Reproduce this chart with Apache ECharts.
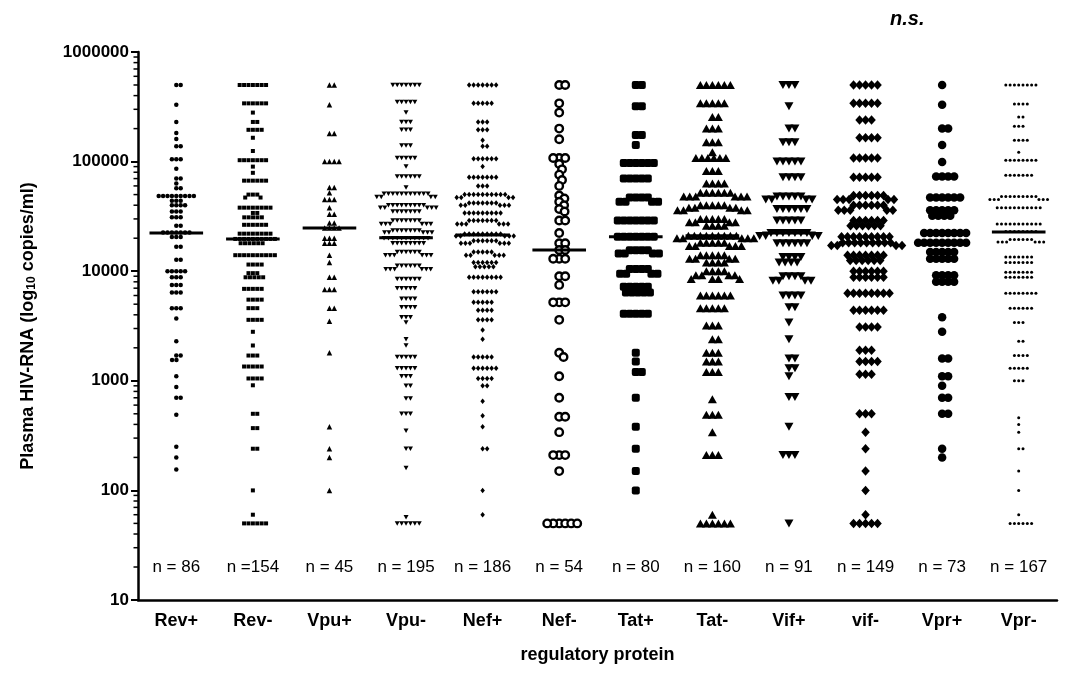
<!DOCTYPE html>
<html><head><meta charset="utf-8"></head>
<body style="margin:0;background:#fff">
<div id="c" style="width:1069px;height:682px"></div>
<script src="https://cdn.jsdelivr.net/npm/echarts@6/dist/echarts.min.js"></script>
<script>
// ---------- data ----------
var categories = ['Rev+','Rev-','Vpu+','Vpu-','Nef+','Nef-','Tat+','Tat-','Vif+','vif-','Vpr+','Vpr-'];
var nLabels = ['n = 86','n =154','n = 45','n = 195','n = 186','n = 54','n = 80','n = 160','n = 91','n = 149','n = 73','n = 167'];
var medians = [22300,19700,24800,20200,21400,15600,20600,21100,22300,18200,18200,22800];
var nLabelLevel = 20;
// each entry: [viral load, number of points read at that level]
var revPlus = [[500000,2],[330000,1],[230000,1],[182000,1],[161000,1],[138000,2],[105000,3],[86000,1],[70000,2],[63000,1],[57000,2],[48500,9],[44000,3],[40000,4],[35000,3],[31000,3],[26000,2],[22500,7],[20500,3],[16700,2],[12700,2],[10000,5],[8800,3],[7500,3],[6400,3],[4600,3],[3700,1],[2300,1],[1700,2],[1550,2],[1100,1],[880,1],[700,2],[490,1],[250,1],[200,1],[155,1]];
var revMinus = [[500000,7],[340000,6],[280000,1],[230000,2],[195000,4],[165000,1],[125000,1],[103000,7],[90000,1],[79000,1],[67000,6],[50000,3],[47000,2],[38000,8],[34000,2],[31000,5],[26500,6],[22000,8],[19700,10],[18000,6],[14000,10],[11500,4],[9600,3],[8800,5],[6900,5],[5500,4],[4600,3],[3600,4],[2800,1],[2100,1],[1700,3],[1350,5],[1050,4],[910,1],[500,2],[370,2],[240,2],[100,1],[60,1],[50,6]];
var vpuPlus = [[500000,2],[330000,1],[180000,2],[100000,4],[58000,2],[52000,1],[45000,3],[38000,1],[33000,2],[27500,2],[24800,4],[20000,3],[18000,3],[14000,1],[12000,1],[8800,2],[6800,3],[4600,2],[3500,1],[1800,1],[380,1],[240,1],[200,1],[100,1]];
var vpuMinus = [[500000,7],[350000,5],[280000,1],[230000,3],[195000,3],[140000,3],[108000,5],[90000,1],[73000,6],[58000,1],[51000,11],[47500,4],[40000,9],[38000,5],[35000,7],[29000,7],[27000,6],[23500,7],[22500,5],[20000,11],[18000,8],[15000,6],[14000,6],[11200,6],[10400,6],[8500,6],[7000,5],[5600,4],[4700,4],[3800,3],[3400,1],[2400,1],[2100,1],[1650,5],[1300,5],[1100,3],[900,2],[690,2],[500,3],[350,1],[240,2],[160,1],[57,1],[50,6]];
var nefPlus = [[500000,7],[340000,5],[230000,3],[195000,3],[157000,1],[138000,2],[106000,6],[90000,1],[72000,7],[60000,3],[50000,10],[47000,4],[42000,7],[40000,5],[34000,9],[29000,7],[27000,6],[21800,9],[21000,5],[19000,6],[18000,6],[15000,5],[14000,5],[12000,6],[11000,5],[8800,8],[6500,6],[5200,5],[4400,4],[3600,4],[2900,1],[2400,1],[1650,5],[1300,6],[1050,4],[900,2],[650,1],[480,1],[380,1],[240,2],[100,1],[60,1]];
var nefMinus = [[500000,2],[340000,1],[280000,1],[200000,1],[160000,1],[108000,3],[95000,1],[85000,1],[76000,1],[68000,1],[60000,1],[49000,1],[46000,1],[43000,1],[40000,1],[37000,1],[35000,1],[29000,2],[22300,1],[18000,2],[15600,2],[13000,3],[9000,2],[7500,1],[5200,3],[3600,1],[1800,1],[1650,1],[1100,1],[700,1],[470,2],[340,1],[210,3],[150,1],[50,6]];
var tatPlus = [[500000,2],[320000,2],[175000,2],[142000,1],[97000,6],[70000,5],[47000,4],[43000,4],[29000,7],[20600,7],[15500,4],[14500,4],[10500,4],[9500,4],[7200,5],[6400,5],[4100,5],[1800,1],[1500,1],[1200,2],[700,1],[380,1],[240,1],[150,1],[100,1]];
var tatMinus = [[500000,6],[340000,5],[255000,2],[200000,3],[150000,3],[122000,1],[108000,6],[82000,3],[63000,4],[52000,6],[48000,6],[40000,5],[38000,4],[36000,4],[30000,5],[28000,4],[26000,4],[21100,9],[20000,5],[18200,5],[17000,5],[14000,5],[13000,4],[12000,4],[10000,4],[9200,4],[8500,4],[6000,6],[4600,5],[3200,3],[2400,2],[1800,3],[1500,3],[1200,3],[680,1],[490,3],[340,1],[210,3],[60,1],[50,6]];
var vifPlus = [[500000,3],[320000,1],[200000,2],[150000,3],[100000,5],[72000,4],[48000,5],[45000,4],[37000,6],[29000,5],[22300,7],[21000,4],[18000,6],[13500,4],[12000,4],[9000,4],[8200,4],[6000,4],[4700,2],[3400,1],[2400,1],[1600,2],[1300,2],[1100,1],[710,2],[380,1],[210,3],[50,1]];
var vifMinus = [[500000,5],[340000,5],[240000,3],[165000,4],[108000,5],[72000,5],[49000,6],[45000,5],[40000,6],[36000,5],[29000,6],[26000,6],[20600,9],[18200,9],[17200,4],[14000,7],[12500,6],[10000,6],[8800,6],[6300,8],[4400,6],[3100,4],[1900,3],[1500,4],[1150,3],[500,3],[340,1],[240,1],[150,1],[100,1],[60,1],[50,5]];
var vprPlus = [[500000,1],[330000,1],[200000,2],[142000,1],[99000,1],[73000,4],[47000,6],[36000,5],[32000,4],[22300,8],[18200,9],[15000,5],[13000,5],[9200,4],[8000,4],[3800,1],[2800,1],[1600,2],[1100,2],[900,1],[700,2],[500,2],[240,1],[200,1]];
var vprMinus = [[500000,8],[335000,4],[255000,2],[210000,3],[157000,4],[122000,1],[103000,8],[75000,7],[48000,9],[45000,6],[38000,11],[27000,11],[23000,8],[19500,6],[18500,6],[13500,7],[12000,7],[9800,7],[8800,7],[6300,8],[4600,6],[3400,3],[2300,2],[1700,4],[1300,5],[1000,3],[460,1],[400,1],[340,1],[240,2],[150,1],[100,1],[60,1],[50,6]];

var groups = [revPlus,revMinus,vpuPlus,vpuMinus,nefPlus,nefMinus,tatPlus,tatMinus,vifPlus,vifMinus,vprPlus,vprMinus];

// ---------- styling ----------
var FONT = 'Liberation Sans, Arial, sans-serif';
var triDown = 'path://M0,0 L10,0 L5,9 Z';
var styles = [
  {symbol:'circle', size:4.5, gap:4.4},
  {symbol:'rect', size:4, gap:4.4},
  {symbol:'triangle', size:5.5, gap:4.8},
  {symbol:triDown, size:[5,4.5], gap:4.4},
  {symbol:'diamond', size:[4.5,5.5], gap:4.5},
  {symbol:'circle', size:7.5, gap:6, hollow:true},
  {symbol:'roundRect', size:8, gap:6},
  {symbol:'triangle', size:[9,8], gap:6},
  {symbol:triDown, size:[9,8], gap:6},
  {symbol:'diamond', size:[8.5,9.5], gap:6},
  {symbol:'circle', size:8.5, gap:6},
  {symbol:'circle', size:3, gap:4.3}
];

var chart = echarts.init(document.getElementById('c'), null, {renderer:'canvas'});

var minorTicks = [];
for (var k = 1; k < 6; k++) for (var m = 2; m <= 9; m++) minorTicks.push(m * Math.pow(10, k));

var baseOption = {
  animation: false,
  backgroundColor: '#fff',
  textStyle: {fontFamily: FONT, color:'#000'},
  grid: {left: 138, right: 12, top: 52, bottom: 82, containLabel: false},
  xAxis: [{
    type: 'category', data: categories, boundaryGap: true,
    axisLine: {onZero: false, lineStyle: {color:'#000', width: 2.5}},
    axisTick: {alignWithLabel: true, length: 7, lineStyle: {width: 2, color:'#000'}},
    axisLabel: {color:'#000', fontSize: 18, fontWeight:'bold', fontFamily: FONT, margin: 12},
    name: 'regulatory protein', nameLocation: 'middle', nameGap: 46,
    nameTextStyle: {color:'#000', fontSize: 18, fontWeight:'bold', fontFamily: FONT}
  },{
    type: 'value', min: -0.5, max: 11.5, show: false
  }],
  yAxis: [{
    type: 'log', logBase: 10, min: 10, max: 1000000,
    axisLine: {show: true, onZero: false, lineStyle: {color:'#000', width: 2.5}},
    axisTick: {show: true, length: 7, lineStyle: {width: 2, color:'#000'}},
    axisLabel: {color:'#000', fontSize: 17, fontWeight:'bold', fontFamily: FONT, margin: 9,
      formatter: function(v){ return String(Math.round(v)); }},
    splitLine: {show: false},
    name: 'Plasma HIV-RNA (log{sub|10} copies/ml)', nameLocation: 'middle', nameGap: 100, nameRotate: 90,
    nameTextStyle: {color:'#000', fontSize: 18, fontWeight:'bold', fontFamily: FONT,
      rich: {sub: {fontSize: 12, fontWeight:'bold', fontFamily: FONT, color:'#000', verticalAlign:'bottom', padding:[8,0,0,0]}}}
  }],
  series: []
};
chart.setOption(baseOption);

function yPix(v){ return chart.convertToPixel({yAxisIndex:0}, v); }
var unitPx = chart.convertToPixel({xAxisIndex:1}, 1) - chart.convertToPixel({xAxisIndex:1}, 0);

// beeswarm layout: horizontal offsets (px) so that markers do not overlap
function swarm(vals, gap){
  var placed = [], out = [];
  vals.forEach(function(v){
    var y = yPix(v), forb = [], cands = [0];
    placed.forEach(function(p){
      var dy = Math.abs(p.y - y);
      if (dy < gap){
        var w = Math.sqrt(gap*gap - dy*dy);
        forb.push([p.x - w, p.x + w]);
        cands.push(p.x - w, p.x + w);
      }
    });
    cands.sort(function(a,b){ return (Math.abs(a) - Math.abs(b)) || (b - a); });
    var x = 0;
    for (var i = 0; i < cands.length; i++){
      var c = cands[i];
      var ok = forb.every(function(f){ return c <= f[0] + 1e-6 || c >= f[1] - 1e-6; });
      if (ok){ x = c; break; }
    }
    placed.push({x:x, y:y});
    out.push(x);
  });
  return out;
}

var series = [];
groups.forEach(function(g, gi){
  var vals = [];
  g.forEach(function(r){ for (var j = 0; j < r[1]; j++) vals.push(r[0]); });
  vals.sort(function(a,b){ return b - a; });
  var st = styles[gi];
  var dx = swarm(vals, st.gap);
  var data = vals.map(function(v, i){ return [gi + dx[i] / unitPx, v]; });
  series.push({
    type: 'scatter', name: categories[gi], xAxisIndex: 1, yAxisIndex: 0,
    symbol: st.symbol, symbolSize: st.size, data: data, silent: true,
    itemStyle: st.hollow ? {color:'#fff', borderColor:'#000', borderWidth: 2.4, opacity:1}
                         : {color:'#000', opacity:1}
  });
});

// median lines
series.push({
  type: 'custom', xAxisIndex: 1, yAxisIndex: 0, silent: true, z: 5,
  data: medians.map(function(m, i){ return [i, m]; }),
  renderItem: function(params, api){
    var i = api.value(0), m = api.value(1);
    var a = api.coord([i - 0.35, m]), b = api.coord([i + 0.35, m]);
    return {type:'line', shape:{x1:a[0], y1:a[1], x2:b[0], y2:b[1]}, style:{stroke:'#000', lineWidth:3}};
  }
});

// n labels
series.push({
  type: 'custom', xAxisIndex: 1, yAxisIndex: 0, silent: true,
  data: nLabels.map(function(t, i){ return [i, nLabelLevel]; }),
  renderItem: function(params, api){
    var p = api.coord([api.value(0), api.value(1)]);
    return {type:'text', x:p[0], y:p[1], style:{text:nLabels[params.dataIndex], fill:'#000',
      font:'17px ' + FONT, textAlign:'center', textVerticalAlign:'middle'}};
  }
});

// log minor ticks
series.push({
  type: 'custom', xAxisIndex: 1, yAxisIndex: 0, silent: true, clip: false,
  data: minorTicks.map(function(v){ return [-0.5, v]; }),
  renderItem: function(params, api){
    var p = api.coord([api.value(0), api.value(1)]);
    return {type:'line', shape:{x1:p[0]-4.5, y1:p[1], x2:p[0], y2:p[1]}, style:{stroke:'#000', lineWidth:1.5}};
  }
});

chart.setOption({
  series: series,
  graphic: [{type:'text', left: 890, top: 9,
    style:{text:'n.s.', font:'italic bold 20px ' + FONT, fill:'#000'}}]
});
</script>
</body></html>
